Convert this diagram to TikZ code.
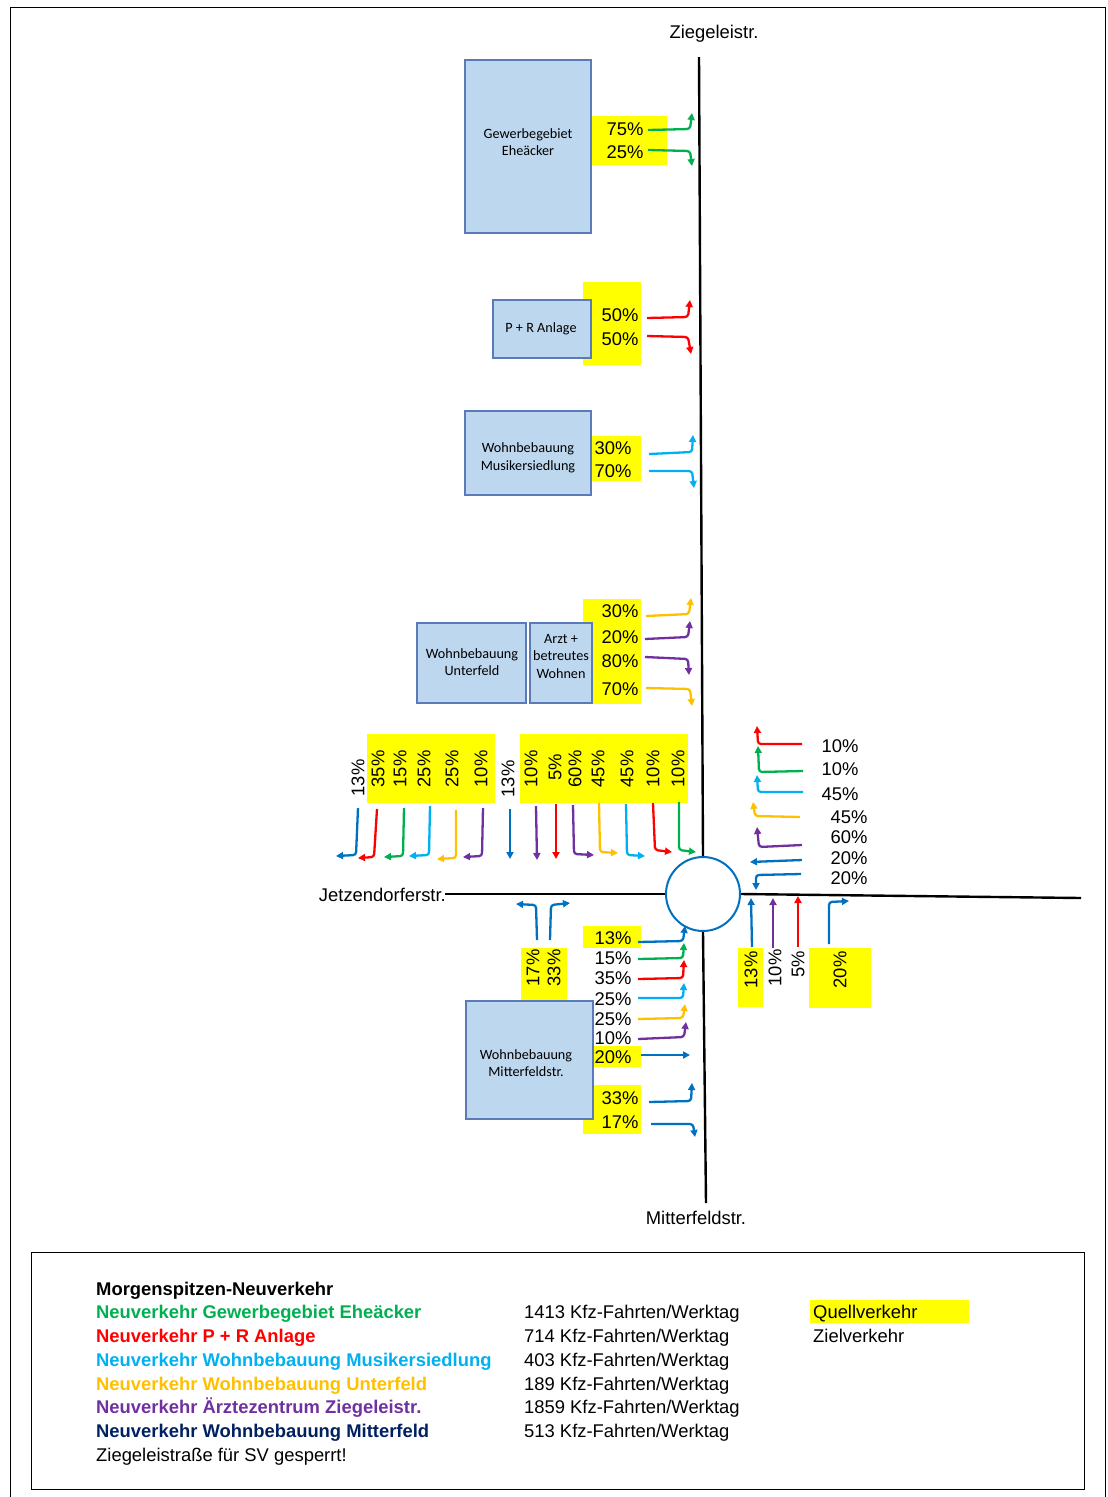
\documentclass[tikz,border=0pt]{standalone}
\usepackage{fontspec}
\setmainfont{Liberation Sans}
\newfontfamily\boxfont{Carlito}
\usetikzlibrary{arrows.meta}
\definecolor{cgreen}{HTML}{00B050}
\definecolor{cred}{HTML}{FF0000}
\definecolor{ccyan}{HTML}{00B0F0}
\definecolor{corange}{HTML}{FFC000}
\definecolor{cpurple}{HTML}{7030A0}
\definecolor{cblue}{HTML}{0070C0}
\definecolor{cnavy}{HTML}{002060}
\definecolor{boxfill}{HTML}{BDD7EE}
\definecolor{boxborder}{HTML}{5A7BB8}
\definecolor{cyel}{HTML}{FFFF00}
\begin{document}
\begin{tikzpicture}[x=1pt,y=-1pt,
  pct/.style={font=\fontsize{18.4}{20}\selectfont, inner sep=0pt},
  rpct/.style={pct, rotate=90},
  area/.style={draw=boxborder, fill=boxfill, line width=1.1pt},
  boxtxt/.style={font=\boxfont\fontsize{14.2}{17.5}\selectfont, align=center, inner sep=0pt},
  yel/.style={fill=cyel},
  road/.style={line width=2.4pt, black},
  arr/.style={line width=2.3pt, rounded corners=3pt, -{Triangle[length=7pt,width=7pt]}},
  leg/.style={font=\fontsize{18.4}{20}\selectfont, anchor=base west, inner sep=0pt},
  legb/.style={leg, font=\fontsize{18.4}{20}\selectfont\bfseries}
]
\useasboundingbox (0,0) rectangle (1108,1497);
% outer frame
\draw[line width=1pt] (10,1497) -- (10,7) -- (1105,7) -- (1105,1497);

% ---------- roads ----------
\node[circle, draw=cblue, line width=2pt, minimum size=74pt, inner sep=0pt] (rb) at (703,894) {};
\coordinate (ntop) at (699,57);
\coordinate (sbot) at (706,1203);
\coordinate (wend) at (445,894);
\coordinate (eend) at (1081,898);
\draw[road] (ntop) -- (rb.north);
\draw[road] (rb.south) -- (sbot);
\draw[road] (wend) -- (rb.west);
\draw[road] (rb.east) -- (eend);
\node[pct] (lzieg) at (714,34) {Ziegeleistr.};
\node[pct] (lmitt) at (696,1218) {Mitterfeldstr.};
\node[pct, anchor=east] (ljetz) at (446,895) {Jetzendorferstr.};

% ---------- Gewerbegebiet ----------
\fill[yel] (591,116) rectangle (667,165);
\draw[area] (465,60) rectangle (591,233);
\node[boxtxt] (bgew) at (528,142) {Gewerbegebiet\\Eheäcker};
\node[pct] (g75) at (625,129) {75\%};
\node[pct] (g25) at (625,152) {25\%};
\draw[arr, cgreen] (648,130) -- (690,129) -- (692,113);
\draw[arr, cgreen] (648,150) -- (690,151) -- (692,166);

% ---------- P + R ----------
\fill[yel] (583,282) rectangle (641,365);
\draw[area] (493,300) rectangle (591,358);
\node[boxtxt] (bpr) at (541,329) {P + R Anlage};
\node[pct] (p50a) at (620,315) {50\%};
\node[pct] (p50b) at (620,339) {50\%};
\draw[arr, cred] (647,318) -- (688,317) -- (690,300);
\draw[arr, cred] (647,336) -- (688,337) -- (691,354);

% ---------- Musikersiedlung ----------
\fill[yel] (591,436) rectangle (641,481);
\draw[area] (465,411) rectangle (591,495);
\node[boxtxt] (bmus) at (528,458) {Wohnbebauung\\Musikersiedlung};
\node[pct] (m30) at (613,448) {30\%};
\node[pct] (m70) at (613,471) {70\%};
\draw[arr, ccyan] (649,454) -- (692,452) -- (693,435);
\draw[arr, ccyan] (649,471) -- (692,471) -- (694,488);

% ---------- Unterfeld / Arzt ----------
\fill[yel] (583,599) rectangle (641,704);
\draw[area] (417,623) rectangle (526,703);
\node[boxtxt] (bunt) at (472,662) {Wohnbebauung\\Unterfeld};
\draw[area] (530,623) rectangle (592,703);
\node[boxtxt] (barzt) at (561,656) {Arzt +\\betreutes\\Wohnen};
\node[pct] (u30) at (620,611) {30\%};
\node[pct] (a20) at (620,637) {20\%};
\node[pct] (a80) at (620,661) {80\%};
\node[pct] (u70) at (620,689) {70\%};
\draw[arr, corange] (646,616) -- (689,614) -- (691,598);
\draw[arr, cpurple] (645,639) -- (688,637) -- (690,621);
\draw[arr, cpurple] (645,657) -- (688,659) -- (689,675);
\draw[arr, corange] (646,688) -- (690,689) -- (692,706);

% ---------- west approach (vertical labels) ----------
\fill[yel] (367,734) rectangle (495,803);
\fill[yel] (520,734) rectangle (688,803);
\node[rpct] (w1) at (358,778) {13\%};
\node[rpct] (w2) at (378,769) {35\%};
\node[rpct] (w3) at (400,769) {15\%};
\node[rpct] (w4) at (424,769) {25\%};
\node[rpct] (w5) at (452,769) {25\%};
\node[rpct] (w6) at (481,769) {10\%};
\node[rpct] (w7) at (508,779) {13\%};
\node[rpct] (w8) at (531,769) {10\%};
\node[rpct] (w9) at (555,767) {5\%};
\node[rpct] (w10) at (575,769) {60\%};
\node[rpct] (w11) at (598,769) {45\%};
\node[rpct] (w12) at (627,769) {45\%};
\node[rpct] (w13) at (653,769) {10\%};
\node[rpct] (w14) at (678,769) {10\%};
\draw[arr, cblue] (358,808) -- (356,855) -- (336,856);
\draw[arr, cred] (377,809) -- (374,857) -- (358,858);
\draw[arr, cgreen] (404,808) -- (403,856) -- (384,857);
\draw[arr, ccyan] (430,806) -- (429,855) -- (409,856);
\draw[arr, corange] (456,810) -- (456,858) -- (437,859);
\draw[arr, cpurple] (483,808) -- (482,856) -- (463,857);
\draw[arr, cblue] (510,809) -- (510,859);
\draw[arr, cpurple] (536,806) -- (537,860);
\draw[arr, cred] (556,804) -- (556,859);
\draw[arr, cpurple] (573,805) -- (574,854) -- (594,855);
\draw[arr, corange] (599,803) -- (600,852) -- (618,853);
\draw[arr, ccyan] (626,804) -- (627,855) -- (645,856);
\draw[arr, cred] (653,803) -- (655,850) -- (672,852);
\draw[arr, cgreen] (679,802) -- (679,850) -- (696,852);

% ---------- east approach ----------
\draw[arr, cred] (802,744) -- (758,744) -- (757,726);
\draw[arr, cgreen] (803,771) -- (759,772) -- (758,746);
\draw[arr, ccyan] (803,792) -- (758,792) -- (757,775);
\draw[arr, corange] (800,817) -- (755,816) -- (753,802);
\draw[arr, cpurple] (802,845) -- (759,847) -- (757,827);
\draw[arr, cblue] (802,860) -- (750,862);
\draw[arr, cblue] (801,874) -- (756,875) -- (756,890);
\node[pct] (e1) at (840,746) {10\%};
\node[pct] (e2) at (840,769) {10\%};
\node[pct] (e3) at (840,794) {45\%};
\node[pct] (e4) at (849,817) {45\%};
\node[pct] (e5) at (849,837) {60\%};
\node[pct] (e6) at (849,858) {20\%};
\node[pct] (e7) at (849,878) {20\%};

% ---------- south-east ----------
\fill[yel] (738,948) rectangle (763,1007);
\fill[yel] (809,948) rectangle (871,1008);
\draw[arr, cblue] (752,947) -- (751,898);
\draw[arr, cpurple] (773,948) -- (773,898);
\draw[arr, cred] (798,947) -- (798,896);
\draw[arr, cblue] (829,944) -- (829,902) -- (849,901);
\node[rpct] (s1) at (751,970) {13\%};
\node[rpct] (s2) at (775,968) {10\%};
\node[rpct] (s3) at (798,964) {5\%};
\node[rpct] (s4) at (840,970) {20\%};

% ---------- south-west ----------
\draw[arr, cblue] (537,940) -- (536,905) -- (516,904);
\draw[arr, cblue] (550,940) -- (551,905) -- (570,903);
\fill[yel] (521,948) rectangle (567,1000);
\node[rpct] (sw1) at (533,968) {17\%};
\node[rpct] (sw2) at (554,968) {33\%};

\fill[yel] (583,926) rectangle (641,948);
\fill[yel] (583,1046) rectangle (641,1067);
\fill[yel] (583,1085) rectangle (641,1134);
\draw[area] (466,1001) rectangle (593,1119);
\node[boxtxt] (bmit) at (526,1063) {Wohnbebauung\\Mitterfeldstr.};
\node[pct] (q1) at (613,938) {13\%};
\node[pct] (q2) at (613,958) {15\%};
\node[pct] (q3) at (613,978) {35\%};
\node[pct] (q4) at (613,999) {25\%};
\node[pct] (q5) at (613,1019) {25\%};
\node[pct] (q6) at (613,1038) {10\%};
\node[pct] (q7) at (613,1057) {20\%};
\node[pct] (q8) at (620,1098) {33\%};
\node[pct] (q9) at (620,1122) {17\%};
\draw[arr, cblue] (638,942) -- (683,941) -- (685,926);
\draw[arr, cgreen] (638,959) -- (683,958) -- (684,943);
\draw[arr, cred] (638,979) -- (683,978) -- (684,960);
\draw[arr, ccyan] (638,998) -- (683,998) -- (684,983);
\draw[arr, corange] (638,1019) -- (683,1018) -- (685,1004);
\draw[arr, cpurple] (638,1039) -- (684,1037) -- (686,1022);
\draw[arr, cblue] (641,1055) -- (690,1055);
\draw[arr, cblue] (649,1102) -- (691,1101) -- (692,1083);
\draw[arr, cblue] (651,1124) -- (693,1124) -- (695,1137);

% ---------- legend ----------
\draw[line width=0.9pt] (31,1252) rectangle (1084,1489);
\node[legb] (l0) at (96,1295) {Morgenspitzen-Neuverkehr};
\node[legb, text=cgreen] (l1) at (96,1318) {Neuverkehr Gewerbegebiet Eheäcker};
\node[legb, text=cred] (l2) at (96,1342) {Neuverkehr P + R Anlage};
\node[legb, text=ccyan] (l3) at (96,1366) {Neuverkehr Wohnbebauung Musikersiedlung};
\node[legb, text=corange] (l4) at (96,1390) {Neuverkehr Wohnbebauung Unterfeld};
\node[legb, text=cpurple] (l5) at (96,1413) {Neuverkehr Ärztezentrum Ziegeleistr.};
\node[legb, text=cnavy] (l6) at (96,1437) {Neuverkehr Wohnbebauung Mitterfeld};
\node[leg] (l7) at (96,1461) {Ziegeleistraße für SV gesperrt!};
\node[leg] (n1) at (524,1318) {1413 Kfz-Fahrten/Werktag};
\node[leg] (n2) at (524,1342) {714 Kfz-Fahrten/Werktag};
\node[leg] (n3) at (524,1366) {403 Kfz-Fahrten/Werktag};
\node[leg] (n4) at (524,1390) {189 Kfz-Fahrten/Werktag};
\node[leg] (n5) at (524,1413) {1859 Kfz-Fahrten/Werktag};
\node[leg] (n6) at (524,1437) {513 Kfz-Fahrten/Werktag};
\fill[yel] (810,1300) rectangle (969,1323);
\node[leg] (k1) at (813,1318) {Quellverkehr};
\node[leg] (k2) at (813,1342) {Zielverkehr};
\end{tikzpicture}
\end{document}
